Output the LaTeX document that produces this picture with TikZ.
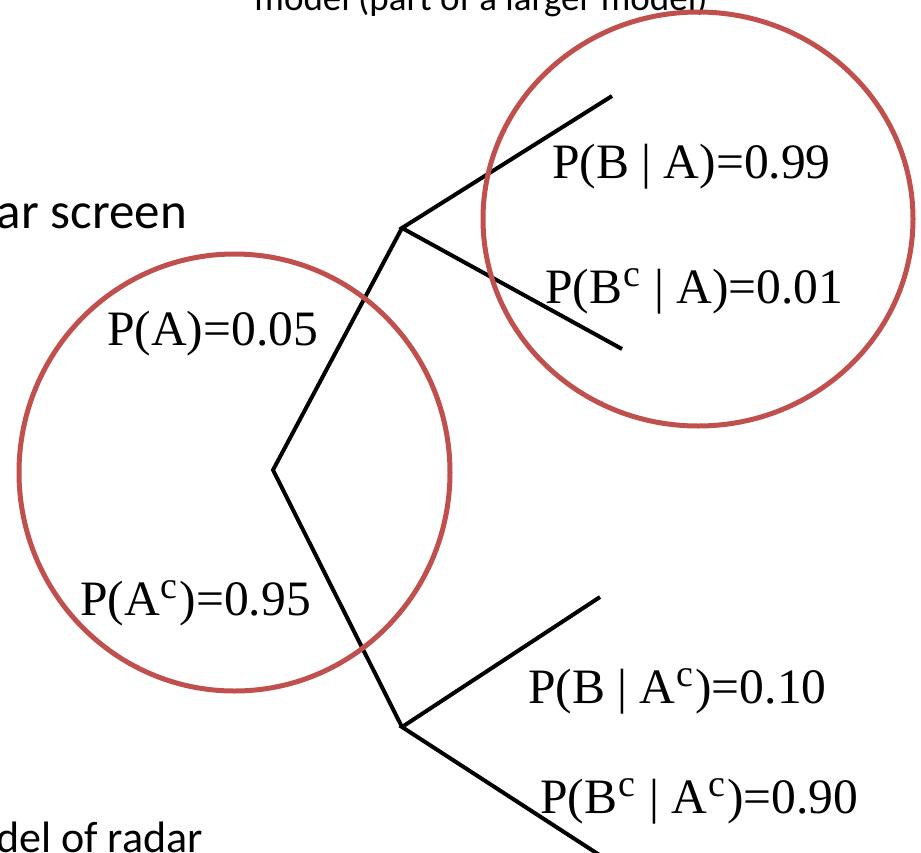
\documentclass[tikz,border=0pt]{standalone}
\usepackage{fontspec}
\setmainfont{Liberation Serif}
\newfontfamily\slidefont{Carlito}
\definecolor{ringred}{RGB}{192,80,77}
\newcommand\supc{\kern1pt\raisebox{0.33em}{\fontsize{38}{38}\selectfont c}\kern2pt}
\begin{document}
\begin{tikzpicture}[x=1pt,y=-1pt,
  branch/.style={draw=black,line width=4pt},
  ring/.style={draw=ringred,line width=5pt},
  prob/.style={font=\fontsize{49.5}{55}\selectfont,inner sep=0pt,anchor=base west},
  slidetext/.style={font=\slidefont\fontsize{51}{58}\selectfont,inner sep=0pt},
  toptext/.style={font=\slidefont\fontsize{37}{44}\selectfont,inner sep=0pt}]
\useasboundingbox (0,0) rectangle (921,852);
% slide text fragments
\node[toptext,anchor=base] (top) at (481,10) {model (part of a larger model)};
\node[slidetext,anchor=base east] (radar) at (187,228) {ar screen};
\node[slidetext,anchor=base east,font=\slidefont\fontsize{44}{50}\selectfont] (bottom) at (203,852) {del of radar};
% tree
\coordinate (root) at (273,470);
\coordinate (A) at (402,228);
\coordinate (Ac) at (402,727);
\coordinate (AB) at (612,96);
\coordinate (ABc) at (622,349);
\coordinate (AcB) at (600,597);
\coordinate (AcBc) at (601,856);
\draw[branch] (A) -- (root) -- (Ac);
\draw[branch] (AB) -- (A) -- (ABc);
\draw[branch] (AcB) -- (Ac) -- (AcBc);
% labels
\node[prob] (pa) at (107,345) {P(A)=0.05};
\node[prob] (pac) at (80,615) {P(A\supc)=0.95};
\node[prob] (pba) at (552,178) {P(B | A)=0.99};
\node[prob] (pbca) at (545,303) {P(B\supc{} | A)=0.01};
\node[prob] (pbac) at (528,703) {P(B | A\supc)=0.10};
\node[prob] (pbcac) at (540,813) {P(B\supc{} | A\supc)=0.90};
% rings
\draw[ring] (234.5,472.5) ellipse [x radius=215.5pt, y radius=218.5pt];
\draw[ring] (698,219) ellipse [x radius=215pt, y radius=207pt];
\end{tikzpicture}
\end{document}
